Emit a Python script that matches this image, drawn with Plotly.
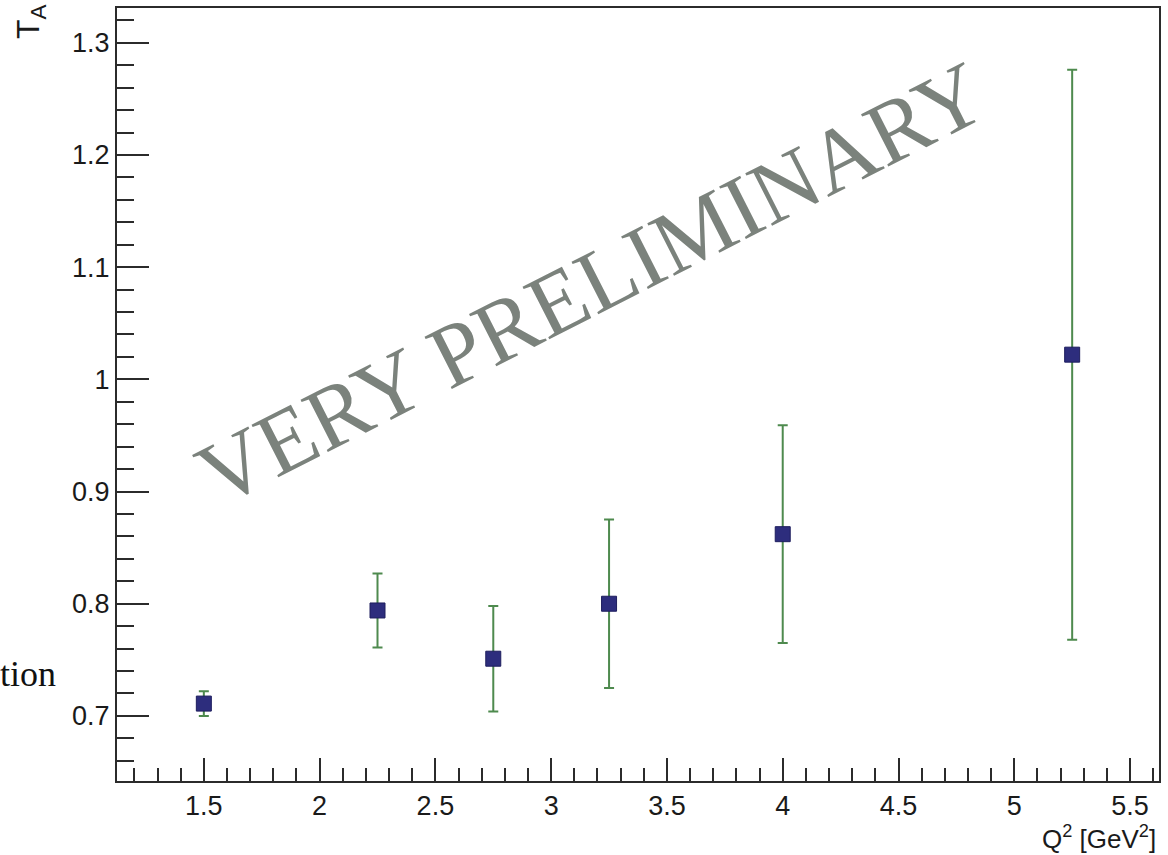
import plotly.graph_objects as go

# Measured points
q2 = [1.5, 2.25, 2.75, 3.25, 4.0, 5.25]
t_a = [0.711, 0.794, 0.751, 0.800, 0.862, 1.022]
t_a_err = [0.011, 0.033, 0.047, 0.075, 0.097, 0.254]

x_tick_vals = [1.5, 2, 2.5, 3, 3.5, 4, 4.5, 5, 5.5]
x_tick_text = ["1.5", "2", "2.5", "3", "3.5", "4", "4.5", "5", "5.5"]
y_tick_vals = [0.7, 0.8, 0.9, 1.0, 1.1, 1.2, 1.3]
y_tick_text = ["0.7", "0.8", "0.9", "1", "1.1", "1.2", "1.3"]

frame_col = "#2b2b2b"
label_font = dict(family="Liberation Sans, Arial, sans-serif", size=27, color="#1a1a1a")

fig = go.Figure()
fig.add_trace(go.Scatter(
    x=q2, y=t_a,
    mode="markers",
    marker=dict(symbol="square", size=15, color="#2d2d7d",
                line=dict(color="#1e1e5e", width=1)),
    error_y=dict(type="data", array=t_a_err, visible=True,
                 color="#4e8a4e", thickness=2, width=5),
    showlegend=False,
))

fig.update_layout(
    width=1168, height=855,
    margin=dict(l=117, r=9, t=6, b=74),
    paper_bgcolor="white", plot_bgcolor="white",
    font=label_font,
    xaxis=dict(
        range=[1.125, 5.625],
        tickvals=x_tick_vals, ticktext=x_tick_text,
        ticks="inside", ticklen=23, tickwidth=2, tickcolor=frame_col,
        minor=dict(ticks="inside", ticklen=13, tickwidth=2, tickcolor=frame_col, dtick=0.1, tick0=0),
        showline=True, linecolor=frame_col, linewidth=2, mirror=True,
        showgrid=False, zeroline=False,
        tickfont=label_font,
    ),
    yaxis=dict(
        range=[0.642, 1.331],
        tickvals=y_tick_vals, ticktext=y_tick_text,
        ticks="inside", ticklen=32, tickwidth=2, tickcolor=frame_col,
        minor=dict(ticks="inside", ticklen=17, tickwidth=2, tickcolor=frame_col, dtick=0.02, tick0=0),
        showline=True, linecolor=frame_col, linewidth=2, mirror=True,
        showgrid=False, zeroline=False,
        tickfont=label_font,
    ),
)

# Axis titles
fig.add_annotation(
    text="Q<sup>2</sup> [GeV<sup>2</sup>]", xref="paper", yref="paper",
    x=1.0, y=0, xanchor="right", yanchor="middle", yshift=-56, xshift=-1,
    showarrow=False, font=dict(family="Liberation Sans, Arial, sans-serif", size=26, color="#1a1a1a"),
)
fig.add_annotation(
    text="T<sub>A</sub>", xref="paper", yref="paper",
    x=0, y=1, xanchor="center", yanchor="middle", xshift=-87, yshift=-14,
    textangle=-90, showarrow=False,
    font=dict(family="Liberation Sans, Arial, sans-serif", size=32, color="#1a1a1a"),
)

# Watermark
fig.add_annotation(
    text="VERY PRELIMINARY", xref="x", yref="y",
    x=3.175, y=1.085, xanchor="center", yanchor="middle",
    textangle=-27, showarrow=False,
    font=dict(family="Liberation Serif, Times New Roman, serif", size=90, color="#7b827c"),
)

# Fragment of caption text at the left edge
fig.add_annotation(
    text="tion", xref="paper", yref="y",
    x=0, y=0.737, xanchor="right", yanchor="middle", xshift=-59,
    showarrow=False,
    font=dict(family="Liberation Serif, Times New Roman, serif", size=36, color="#111111"),
)

fig.write_html("out.html")
